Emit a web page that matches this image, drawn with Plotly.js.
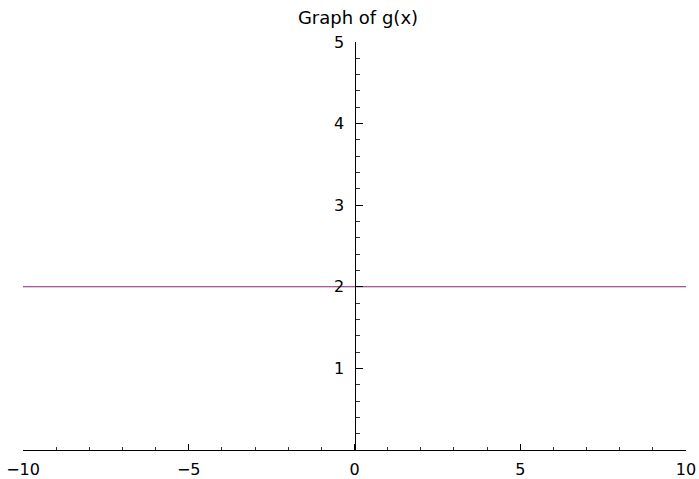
<!DOCTYPE html>
<html>
<head>
<meta charset="utf-8">
<script src="https://cdn.plot.ly/plotly-3.0.1.min.js"></script>
<style>html,body{margin:0;padding:0;background:#fff;}#chart{width:699px;height:479px;}</style>
</head>
<body>
<div id="chart"></div>
<script>
// Data: g(x) = 2, sampled at the plot ends
const xValues = [-10, 10];
const yValues = [2, 2];
const xTickVals = [-10, -5, 0, 5, 10];
const xTickText = ["\u221210", "\u22125", "0", "5", "10"];
const yTickVals = [1, 2, 3, 4, 5];
const yTickText = ["1", "2", "3", "4", "5"];
const titleText = "Graph of g(x)";

const fontFam = "DejaVu Sans, sans-serif";
const trace = {
  x: xValues, y: yValues, type: 'scatter', mode: 'lines',
  line: {color: '#8e2475', width: 1.1}, hoverinfo: 'skip'
};
const layout = {
  width: 699, height: 479,
  margin: {l: 23, r: 13, t: 42, b: 29, pad: 0},
  paper_bgcolor: '#fff', plot_bgcolor: '#fff',
  showlegend: false,
  title: {text: titleText, x: 358/699, xref: 'container', xanchor: 'center',
          y: 1 - 18/479, yref: 'container', yanchor: 'middle',
          font: {family: fontFam, size: 18, color: '#000'}},
  xaxis: {
    range: [-10, 10], showgrid: false, zeroline: false,
    showline: true, linecolor: '#000', linewidth: 1,
    tickmode: 'array', tickvals: xTickVals, ticktext: xTickText,
    ticks: 'inside', ticklen: 6, tickcolor: '#000', tickwidth: 1,
    minor: {dtick: 1, ticks: 'inside', ticklen: 3, tickcolor: '#333', tickwidth: 1, showgrid: false},
    tickfont: {family: fontFam, size: 16, color: '#000'},
    ticklabelstandoff: 5,
    fixedrange: true
  },
  yaxis: {
    range: [0, 5], showgrid: false, zeroline: false,
    anchor: 'free', position: 0.5, side: 'left',
    showline: true, linecolor: '#000', linewidth: 1,
    tickmode: 'array', tickvals: yTickVals, ticktext: yTickText,
    ticks: 'inside', ticklen: 7, tickcolor: '#000', tickwidth: 1,
    minor: {tick0: 0, dtick: 0.2, ticks: 'inside', ticklen: 4, tickcolor: '#333', tickwidth: 1, showgrid: false},
    tickfont: {family: fontFam, size: 16, color: '#000'},
    ticklabelstandoff: 7,
    fixedrange: true
  }
};
Plotly.newPlot('chart', [trace], layout, {staticPlot: true, displayModeBar: false});
</script>
</body>
</html>
